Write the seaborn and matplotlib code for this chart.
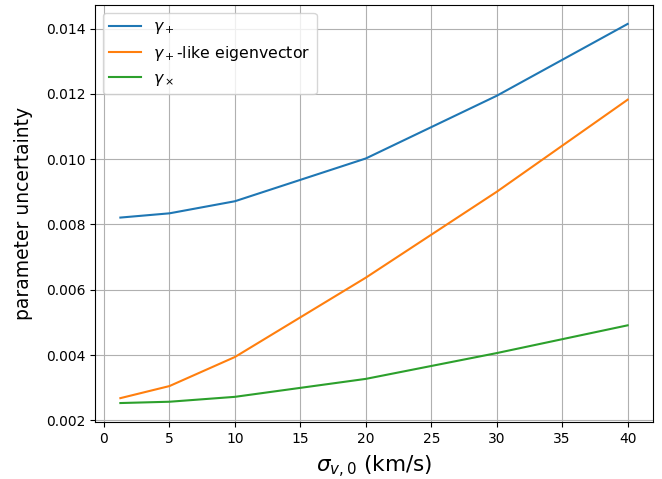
import pandas as pd
import seaborn as sns
import matplotlib.pyplot as plt

# velocity dispersion values (km/s)
sigma_v0 = [1.25, 5, 10, 20, 30, 40]

# parameter uncertainties
gamma_plus = [0.00821, 0.00834, 0.00871, 0.01002, 0.01194, 0.01414]
gamma_plus_like = [0.00268, 0.00305, 0.00394, 0.00637, 0.00900, 0.01182]
gamma_cross = [0.00253, 0.00257, 0.00272, 0.00327, 0.00406, 0.00491]

labels = [r'$\gamma_+$', r'$\gamma_+$-like eigenvector', r'$\gamma_\times$']
colors = ['#1f77b4', '#ff7f0e', '#2ca02c']


def make_plot():
    frames = []
    for name, vals in zip(labels, [gamma_plus, gamma_plus_like, gamma_cross]):
        frames.append(pd.DataFrame({'sigma': sigma_v0, 'unc': vals, 'series': name}))
    df = pd.concat(frames, ignore_index=True)

    fig, ax = plt.subplots(figsize=(6.62, 4.79), dpi=100)
    fig.subplots_adjust(left=0.1435, right=0.9864, top=0.9896, bottom=0.119)

    sns.lineplot(data=df, x='sigma', y='unc', hue='series', hue_order=labels,
                 palette=colors, linewidth=1.5, ax=ax)

    ax.grid(True, color='#b0b0b0', linewidth=0.8)
    ax.set_axisbelow(True)
    ax.set_xticks(range(0, 45, 5))
    ax.set_xlabel(r'$\sigma_{v,0}$ (km/s)', fontsize=15.5, labelpad=6)
    ax.set_ylabel('parameter uncertainty', fontsize=13.5, labelpad=9)
    ax.tick_params(labelsize=10)

    leg = ax.legend(loc='upper left', fontsize=11.3)
    leg.set_title(None)

    fig.savefig('out.png', dpi=100)


if __name__ == "__main__":
    make_plot()
